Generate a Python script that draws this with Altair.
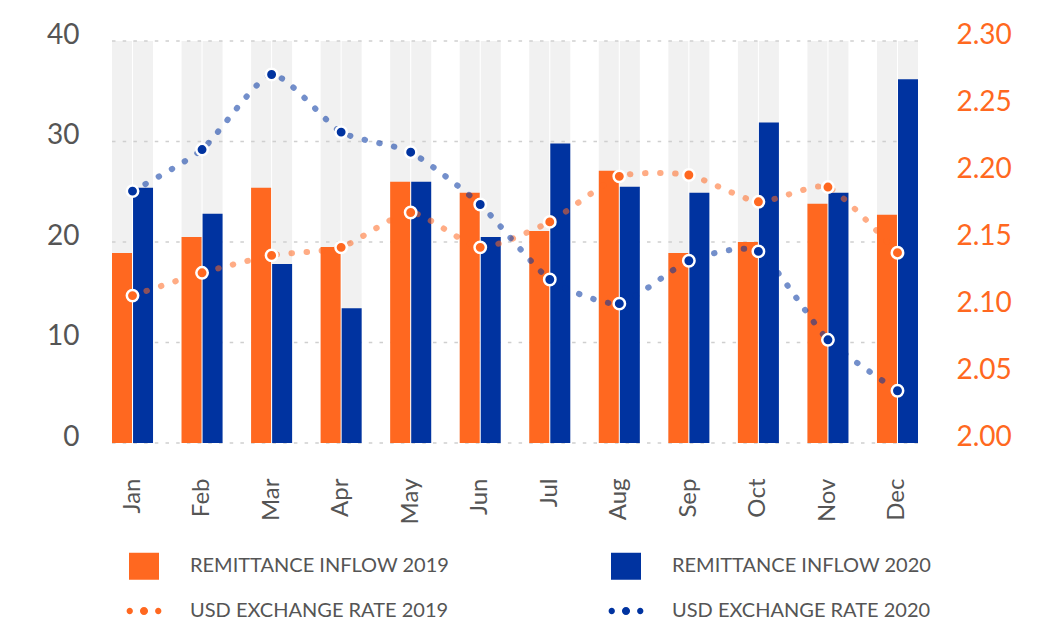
import altair as alt
import pandas as pd

months = ["Jan", "Feb", "Mar", "Apr", "May", "Jun", "Jul", "Aug", "Sep", "Oct", "Nov", "Dec"]
inflow_2019 = [18.9, 20.5, 25.4, 19.5, 26.0, 24.9, 21.1, 27.1, 18.9, 20.0, 23.8, 22.7]
inflow_2020 = [25.4, 22.8, 17.8, 13.4, 26.0, 20.5, 29.8, 25.5, 24.9, 31.9, 24.9, 36.2]
rate_2019 = [2.110, 2.127, 2.140, 2.146, 2.172, 2.146, 2.165, 2.199, 2.200, 2.180, 2.191, 2.142]
rate_2020 = [2.188, 2.219, 2.275, 2.232, 2.217, 2.178, 2.122, 2.104, 2.136, 2.143, 2.077, 2.039]
left_ticks = [0, 10, 20, 30, 40]
right_ticks = [2.00, 2.05, 2.10, 2.15, 2.20, 2.25, 2.30]
series_names = ["REMITTANCE INFLOW 2019", "REMITTANCE INFLOW 2020",
                "USD EXCHANGE RATE 2019", "USD EXCHANGE RATE 2020"]
series_colors = ["#FF6820", "#0033A0", "#FF6820", "#0033A0"]

ORANGE = "#FF6820"
GREY_TXT = "#555555"
FONT = "Lato"


def circ(cx, r):
    return f"M{cx - r},0a{r},{r} 0 1,0 {2 * r},0a{r},{r} 0 1,0 {-2 * r},0Z"


rect_path = "M-1,-0.9H1V0.9H-1Z"
dots_path = circ(-0.95, 0.21) + circ(0, 0.27) + circ(0.95, 0.21)
shape_paths = [rect_path, rect_path, dots_path, dots_path]

bars_df = pd.DataFrame({
    "month": months * 2,
    "series": [series_names[0]] * 12 + [series_names[1]] * 12,
    "value": inflow_2019 + inflow_2020,
})
rates_df = pd.DataFrame({
    "month": months * 2,
    "series": [series_names[2]] * 12 + [series_names[3]] * 12,
    "rate": rate_2019 + rate_2020,
})
grid_df = pd.DataFrame({"tick": left_ticks})
legend_df = pd.DataFrame({"series": series_names})

x_enc = alt.X(
    "month:N", sort=months,
    scale=alt.Scale(paddingInner=0.41, paddingOuter=0),
    axis=alt.Axis(title=None, labelAngle=-90, labelFontSize=24, labelFont=FONT,
                  labelColor=GREY_TXT, labelPadding=35, domain=False, ticks=False,
                  grid=False),
)
xoff = alt.XOffset("series:N", scale=alt.Scale(paddingInner=0.05, paddingOuter=0))
y_left_scale = alt.Scale(domain=[left_ticks[0], left_ticks[-1]], nice=False)
y_right_scale = alt.Scale(domain=[right_ticks[0], right_ticks[-1]], nice=False, zero=False)

left_axis = alt.Axis(values=left_ticks, title=None, domain=False, ticks=False, grid=False,
                     labelFontSize=28, labelFont=FONT, labelColor=GREY_TXT,
                     labelPadding=33, labelBaseline="alphabetic", labelOffset=2)
right_axis = alt.Axis(orient="right", values=right_ticks, format=".2f", title=None,
                      domain=False, ticks=False, grid=False, labelFontSize=28,
                      labelFont=FONT, labelColor=ORANGE, labelPadding=38,
                      labelBaseline="alphabetic", labelOffset=2, labelAlign="left")

legend_spec = alt.Legend(
    orient="none", legendX=17, legendY=510, columns=2, direction="horizontal",
    columnPadding=158, rowPadding=16, symbolSize=900, labelOffset=31,
    labelFontSize=20, labelFont=FONT, labelColor=GREY_TXT, labelLimit=500,
    title=None, symbolStrokeWidth=0, symbolOpacity=1,
)
color_enc = alt.Color("series:N", scale=alt.Scale(domain=series_names, range=series_colors),
                      legend=legend_spec, title=None)

track = alt.Chart(bars_df).mark_bar(color="#F1F1F1").encode(
    x=x_enc, xOffset=xoff,
    y=alt.YDatum(left_ticks[-1], scale=y_left_scale, axis=left_axis, title=None),
)
grid = alt.Chart(grid_df).mark_rule(color="#CFCFCF", strokeDash=[3.5, 7.2], strokeWidth=1.5).encode(
    y=alt.Y("tick:Q", scale=y_left_scale, axis=left_axis, title=None),
)
bars = alt.Chart(bars_df).mark_bar().encode(
    x=x_enc, xOffset=xoff,
    y=alt.Y("value:Q", scale=y_left_scale, axis=left_axis, title=None),
    color=color_enc,
)
left = alt.layer(track, grid, bars)

lines = alt.Chart(rates_df).mark_line(
    interpolate="cardinal", tension=0.4, strokeWidth=6, strokeDash=[0.5, 14.5],
    strokeCap="round", opacity=0.55,
).encode(
    x=x_enc,
    y=alt.Y("rate:Q", scale=y_right_scale, axis=right_axis, title=None),
    color=color_enc,
)
points = alt.Chart(rates_df).mark_point(
    filled=True, size=130, stroke="white", strokeWidth=2.5, opacity=1,
).encode(
    x=x_enc,
    y=alt.Y("rate:Q", scale=y_right_scale, axis=right_axis, title=None),
    color=color_enc,
)
right = alt.layer(lines, points)

legend_layer = alt.Chart(legend_df).mark_point(filled=True, size=900).encode(
    x=alt.value(-3000), y=alt.value(-3000),
    color=color_enc,
    shape=alt.Shape("series:N", scale=alt.Scale(domain=series_names, range=shape_paths),
                    legend=legend_spec, title=None),
)

chart = alt.layer(left, right, legend_layer).resolve_scale(y="independent").properties(
    width=806, height=402,
    padding={"left": 104, "top": 33, "right": 120, "bottom": 186},
    autosize=alt.AutoSizeParams(type="none"),
).configure_view(stroke=None)

chart.save("out.html", embed_options={"renderer": "svg", "actions": False})
